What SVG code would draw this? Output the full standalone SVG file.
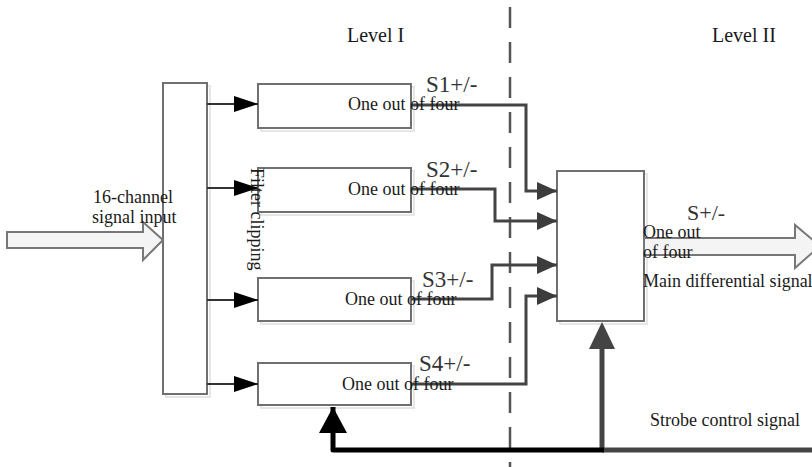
<svg xmlns="http://www.w3.org/2000/svg" width="812" height="467" viewBox="0 0 812 467">
<style>
.box{fill:#fff;stroke:#707070;stroke-width:2}
.shadow{fill:none;stroke:#e6e6e6;stroke-width:2}
.t{font-family:"Liberation Serif","Times New Roman",serif;fill:#1a1a1a;font-size:18px}
.s{font-family:"Liberation Serif","Times New Roman",serif;fill:#333;font-size:23px}
.thin{fill:none;stroke:#333;stroke-width:1.8}
.sig{fill:none;stroke:#444;stroke-width:3}
.hollow{fill:#f4f4f4;stroke:#777;stroke-width:2}
</style>
<defs>
<marker id="blk" viewBox="0 0 24 16" refX="24" refY="8" markerWidth="24" markerHeight="16" markerUnits="userSpaceOnUse" orient="auto"><path d="M0,0 L24,8 L0,16 Z" fill="#000"/></marker>
<marker id="gry" viewBox="0 0 20 18" refX="20" refY="9" markerWidth="20" markerHeight="18" markerUnits="userSpaceOnUse" orient="auto"><path d="M0,0 L20,9 L0,18 Z" fill="#3c3c3c"/></marker>
</defs>
<rect width="812" height="467" fill="#fff"/>
<text class="t" x="347" y="42" style="font-size:20px">Level I</text>
<text class="t" x="712" y="42" style="font-size:20px">Level II</text>
<line x1="510" y1="7" x2="510" y2="467" stroke="#555" stroke-width="2.5" stroke-dasharray="21 14"/>
<g id="filter">
<rect class="shadow" x="166" y="86" width="44" height="311"/>
<rect class="box" x="163" y="83" width="44" height="311"/>
</g>
<g id="input-arrow">
<path class="hollow" d="M7,232 L143,232 L143,222 L163,240 L143,260 L143,248 L7,248 Z"/>
<text class="t" x="93" y="203">16-channel</text>
<text class="t" x="92" y="223">signal input</text>
</g>
<g id="box1">
<rect class="shadow" x="261" y="87" width="153" height="44"/>
<rect class="box" x="258" y="84" width="153" height="44"/>
</g>
<g id="box2">
<rect class="shadow" x="261" y="171" width="153" height="44"/>
<rect class="box" x="258" y="168" width="153" height="44"/>
</g>
<g id="box3">
<rect class="shadow" x="261" y="281" width="153" height="43"/>
<rect class="box" x="258" y="278" width="153" height="43"/>
</g>
<g id="box4">
<rect class="shadow" x="261" y="366" width="153" height="42"/>
<rect class="box" x="258" y="363" width="153" height="42"/>
</g>
<g id="selector">
<rect class="shadow" x="560" y="174" width="87" height="150"/>
<rect class="box" x="557" y="171" width="87" height="150"/>
</g>
<g id="connectors">
<path class="thin" d="M207,104 L258,104" marker-end="url(#blk)"/>
<path class="thin" d="M207,188 L258,188" marker-end="url(#blk)"/>
<path class="thin" d="M207,300 L258,300" marker-end="url(#blk)"/>
<path class="thin" d="M207,384 L258,384" marker-end="url(#blk)"/>
<path class="sig" d="M411,105 L526,105 L526,191 L557,191" marker-end="url(#gry)"/>
<path class="sig" d="M411,189 L495,189 L495,221 L557,221" marker-end="url(#gry)"/>
<path class="sig" d="M411,299 L492,299 L492,265 L557,265" marker-end="url(#gry)"/>
<path class="sig" d="M411,384 L526,384 L526,296 L557,296" marker-end="url(#gry)"/>
<path d="M602,450 L812,450" stroke="#444" stroke-width="5" fill="none"/>
<path d="M602,452 L602,346" stroke="#444" stroke-width="5" fill="none"/>
<path d="M589,349 L602,322 L615,349 Z" fill="#444"/>
<path d="M333,407 L333,450 L604,450" stroke="#000" stroke-width="5" fill="none" stroke-linejoin="round"/>
<path d="M319,433 L333,407 L347,433 Z" fill="#000"/>
</g>
<g id="output-arrow">
<path class="hollow" d="M644,238 L795,238 L795,225 L820,246 L795,268 L795,255 L644,255 Z"/>
</g>
<text class="t" transform="translate(251,168) rotate(90)">Filter clipping</text>
<text class="t" x="348" y="110">One out of four</text>
<text class="t" x="348" y="195">One out of four</text>
<text class="t" x="345" y="305">One out of four</text>
<text class="t" x="342" y="390">One out of four</text>
<text class="s" x="426" y="92">S1+/-</text>
<text class="s" x="426" y="177">S2+/-</text>
<text class="s" x="422" y="287">S3+/-</text>
<text class="s" x="419" y="371">S4+/-</text>
<text class="s" x="687" y="220" style="font-size:22px">S+/-</text>
<text class="t" x="643" y="238">One out</text>
<text class="t" x="643" y="258">of four</text>
<text class="t" x="643" y="287">Main differential signal</text>
<text class="t" x="650" y="426">Strobe control signal</text>
</svg>
